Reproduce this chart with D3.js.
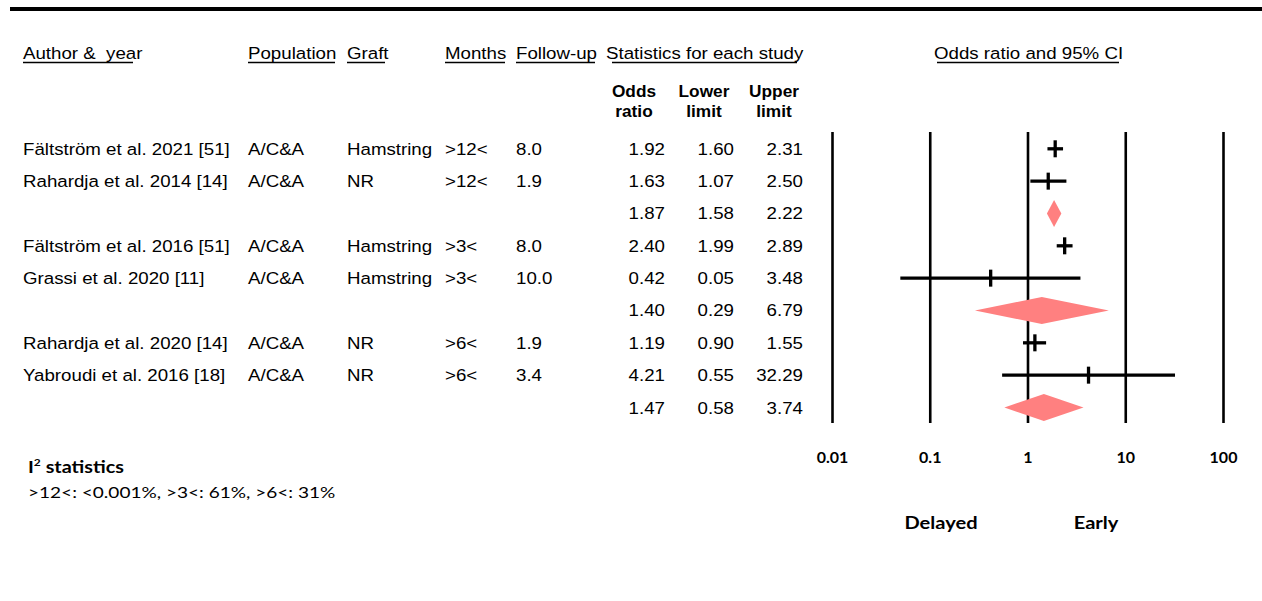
<!DOCTYPE html>
<html>
<head>
<meta charset="utf-8">
<script src="https://cdn.jsdelivr.net/npm/d3@7"></script>
<style>
  html, body { margin: 0; padding: 0; background: #fff; }
  svg { display: block; }
  text { white-space: pre; }
  .tbl { font-family: "Liberation Sans", Arial, sans-serif; font-size: 17px; fill: #000; }
  .hdr2 { font-family: "Liberation Sans", Arial, sans-serif; font-size: 16px; font-weight: bold; fill: #000; }
  .cal { font-family: Lato, "Open Sans", sans-serif; fill: #000; }
</style>
</head>
<body>
<svg id="chart" width="1262" height="601"></svg>
<script>
// Study rows; summary rows have no author / population / graft / months / follow-up
const rowKinds    = ["study", "study", "summary", "study", "study", "summary", "study", "study", "summary"];
const authors     = ["Fältström et al. 2021 [51]", "Rahardja et al. 2014 [14]", "", "Fältström et al. 2016 [51]", "Grassi et al. 2020 [11]", "", "Rahardja et al. 2020 [14]", "Yabroudi et al. 2016 [18]", ""];
const populations = ["A/C&A", "A/C&A", "", "A/C&A", "A/C&A", "", "A/C&A", "A/C&A", ""];
const grafts      = ["Hamstring", "NR", "", "Hamstring", "Hamstring", "", "NR", "NR", ""];
const months      = [">12<", ">12<", "", ">3<", ">3<", "", ">6<", ">6<", ""];
const followUps   = ["8.0", "1.9", "", "8.0", "10.0", "", "1.9", "3.4", ""];
const oddsRatios  = [1.92, 1.63, 1.87, 2.40, 0.42, 1.40, 1.19, 4.21, 1.47];
const lowerLimits = [1.60, 1.07, 1.58, 1.99, 0.05, 0.29, 0.90, 0.55, 0.58];
const upperLimits = [2.31, 2.50, 2.22, 2.89, 3.48, 6.79, 1.55, 32.29, 3.74];
const tickValues  = [0.01, 0.1, 1, 10, 100];
const tickLabels  = ["0.01", "0.1", "1", "10", "100"];

const svg = d3.select("#chart");

// Text is set slightly wide; place each label with a horizontal stretch about its anchor
const SX = 1.1;
function put(sel, x, y, sx = SX) {
  return sel.attr("x", 0).attr("y", 0)
    .attr("transform", (d, i) => {
      const xx = typeof x === "function" ? x(d, i) : x;
      const yy = typeof y === "function" ? y(d, i) : y;
      return `translate(${xx},${yy}) scale(${sx},1)`;
    });
}

// Heavy rule across the top
svg.append("line")
  .attr("x1", 10).attr("x2", 1262).attr("y1", 9).attr("y2", 9)
  .attr("stroke", "#000").attr("stroke-width", 4);

// Scales
const x = d3.scaleLog().domain([0.01, 100]).range([832, 1223]);
const y = d3.scaleLinear().domain([0, 8]).range([148.8, 407.5]);
const plotTop = 132, plotBottom = 423;

// Column headers with underlines
const headers = [
  { text: "Author &  year", x: 23, ul: [23, 133] },
  { text: "Population", x: 248, ul: [248, 335] },
  { text: "Graft", x: 347, ul: [347, 385] },
  { text: "Months", x: 445, ul: [445, 505] },
  { text: "Follow-up", x: 516, ul: [516, 595] },
  { text: "Statistics for each study", x: 606, ul: [612, 797] },
  { text: "Odds ratio and 95% CI", x: 934, ul: [937, 1119] }
];
const hg = svg.append("g");
headers.forEach(h => {
  put(hg.append("text").attr("class", "tbl").text(h.text), h.x, 59);
  hg.append("line").attr("x1", h.ul[0]).attr("x2", h.ul[1]).attr("y1", 62.5).attr("y2", 62.5)
    .attr("stroke", "#000").attr("stroke-width", 1.3);
});

// Sub-headers for the statistics columns
const subHeaders = [
  { lines: ["Odds", "ratio"], x: 634 },
  { lines: ["Lower", "limit"], x: 704 },
  { lines: ["Upper", "limit"], x: 774 }
];
subHeaders.forEach(s => {
  s.lines.forEach((l, i) => {
    put(svg.append("text").attr("class", "hdr2").attr("text-anchor", "middle").text(l),
      s.x, 97 + i * 20, 1.08);
  });
});

// Table body
const idx = d3.range(oddsRatios.length);
const body = svg.append("g");
const leftCols = [
  { vals: authors, x: 23 },
  { vals: populations, x: 248 },
  { vals: grafts, x: 347 },
  { vals: months, x: 445 },
  { vals: followUps, x: 516 }
];
leftCols.forEach(c => {
  put(body.selectAll(null).data(idx).join("text").attr("class", "tbl").text(i => c.vals[i]),
    c.x, i => y(i) + 6);
});
const numCols = [
  { vals: oddsRatios, x: 665 },
  { vals: lowerLimits, x: 734 },
  { vals: upperLimits, x: 803 }
];
numCols.forEach(c => {
  put(body.selectAll(null).data(idx).join("text").attr("class", "tbl")
      .attr("text-anchor", "end").text(i => d3.format(".2f")(c.vals[i])),
    c.x, i => y(i) + 6);
});

// Axis with full-height gridlines
const axis = d3.axisBottom(x).tickValues(tickValues)
  .tickFormat((d, i) => tickLabels[i])
  .tickSize(-(plotBottom - plotTop)).tickPadding(0);
const ag = svg.append("g").attr("transform", `translate(0,${plotBottom})`).call(axis);
ag.select(".domain").remove();
ag.selectAll(".tick line").attr("stroke", "#000").attr("stroke-width", 2.6);
ag.selectAll(".tick text").attr("class", "cal").attr("font-size", 16).attr("font-weight", "bold")
  .attr("dy", null).attr("y", 40).attr("fill", "#000");

// Study markers: CI line plus vertical tick at the odds ratio
const studyIdx = idx.filter(i => rowKinds[i] === "study");
const mg = svg.append("g");
mg.selectAll(".ci").data(studyIdx).join("line")
  .attr("x1", i => x(lowerLimits[i])).attr("x2", i => x(upperLimits[i]))
  .attr("y1", i => y(i)).attr("y2", i => y(i))
  .attr("stroke", "#000").attr("stroke-width", 3.3);
mg.selectAll(".pt").data(studyIdx).join("line")
  .attr("x1", i => x(oddsRatios[i])).attr("x2", i => x(oddsRatios[i]))
  .attr("y1", i => y(i) - 8.5).attr("y2", i => y(i) + 8.5)
  .attr("stroke", "#000").attr("stroke-width", 3.3);

// Pooled estimates as diamonds
const sumIdx = idx.filter(i => rowKinds[i] === "summary");
mg.selectAll(".dia").data(sumIdx).join("path")
  .attr("fill", "#ff8080")
  .attr("d", i => {
    const cy = y(i), h = 13.5;
    return `M${x(lowerLimits[i])},${cy}L${x(oddsRatios[i])},${cy - h}L${x(upperLimits[i])},${cy}L${x(oddsRatios[i])},${cy + h}Z`;
  });

// Direction labels
put(svg.append("text").attr("class", "cal").attr("font-size", 17).attr("font-weight", "bold")
  .attr("text-anchor", "middle").text("Delayed"), 941, 529, 1.18);
put(svg.append("text").attr("class", "cal").attr("font-size", 17).attr("font-weight", "bold")
  .attr("text-anchor", "middle").text("Early"), 1096, 529, 1.18);

// Heterogeneity note
const note = put(svg.append("text").attr("class", "cal").attr("font-size", 16.5).attr("font-weight", "bold"),
  28, 473, 1.2);
note.append("tspan").text("I");
note.append("tspan").attr("font-size", 10).attr("dy", -7).text("2");
note.append("tspan").attr("dy", 7).text(" statistics");
put(svg.append("text").attr("class", "cal").attr("font-size", 16)
  .text(">12<: <0.001%, >3<: 61%, >6<: 31%"), 28, 498, 1.19);
</script>
</body>
</html>
